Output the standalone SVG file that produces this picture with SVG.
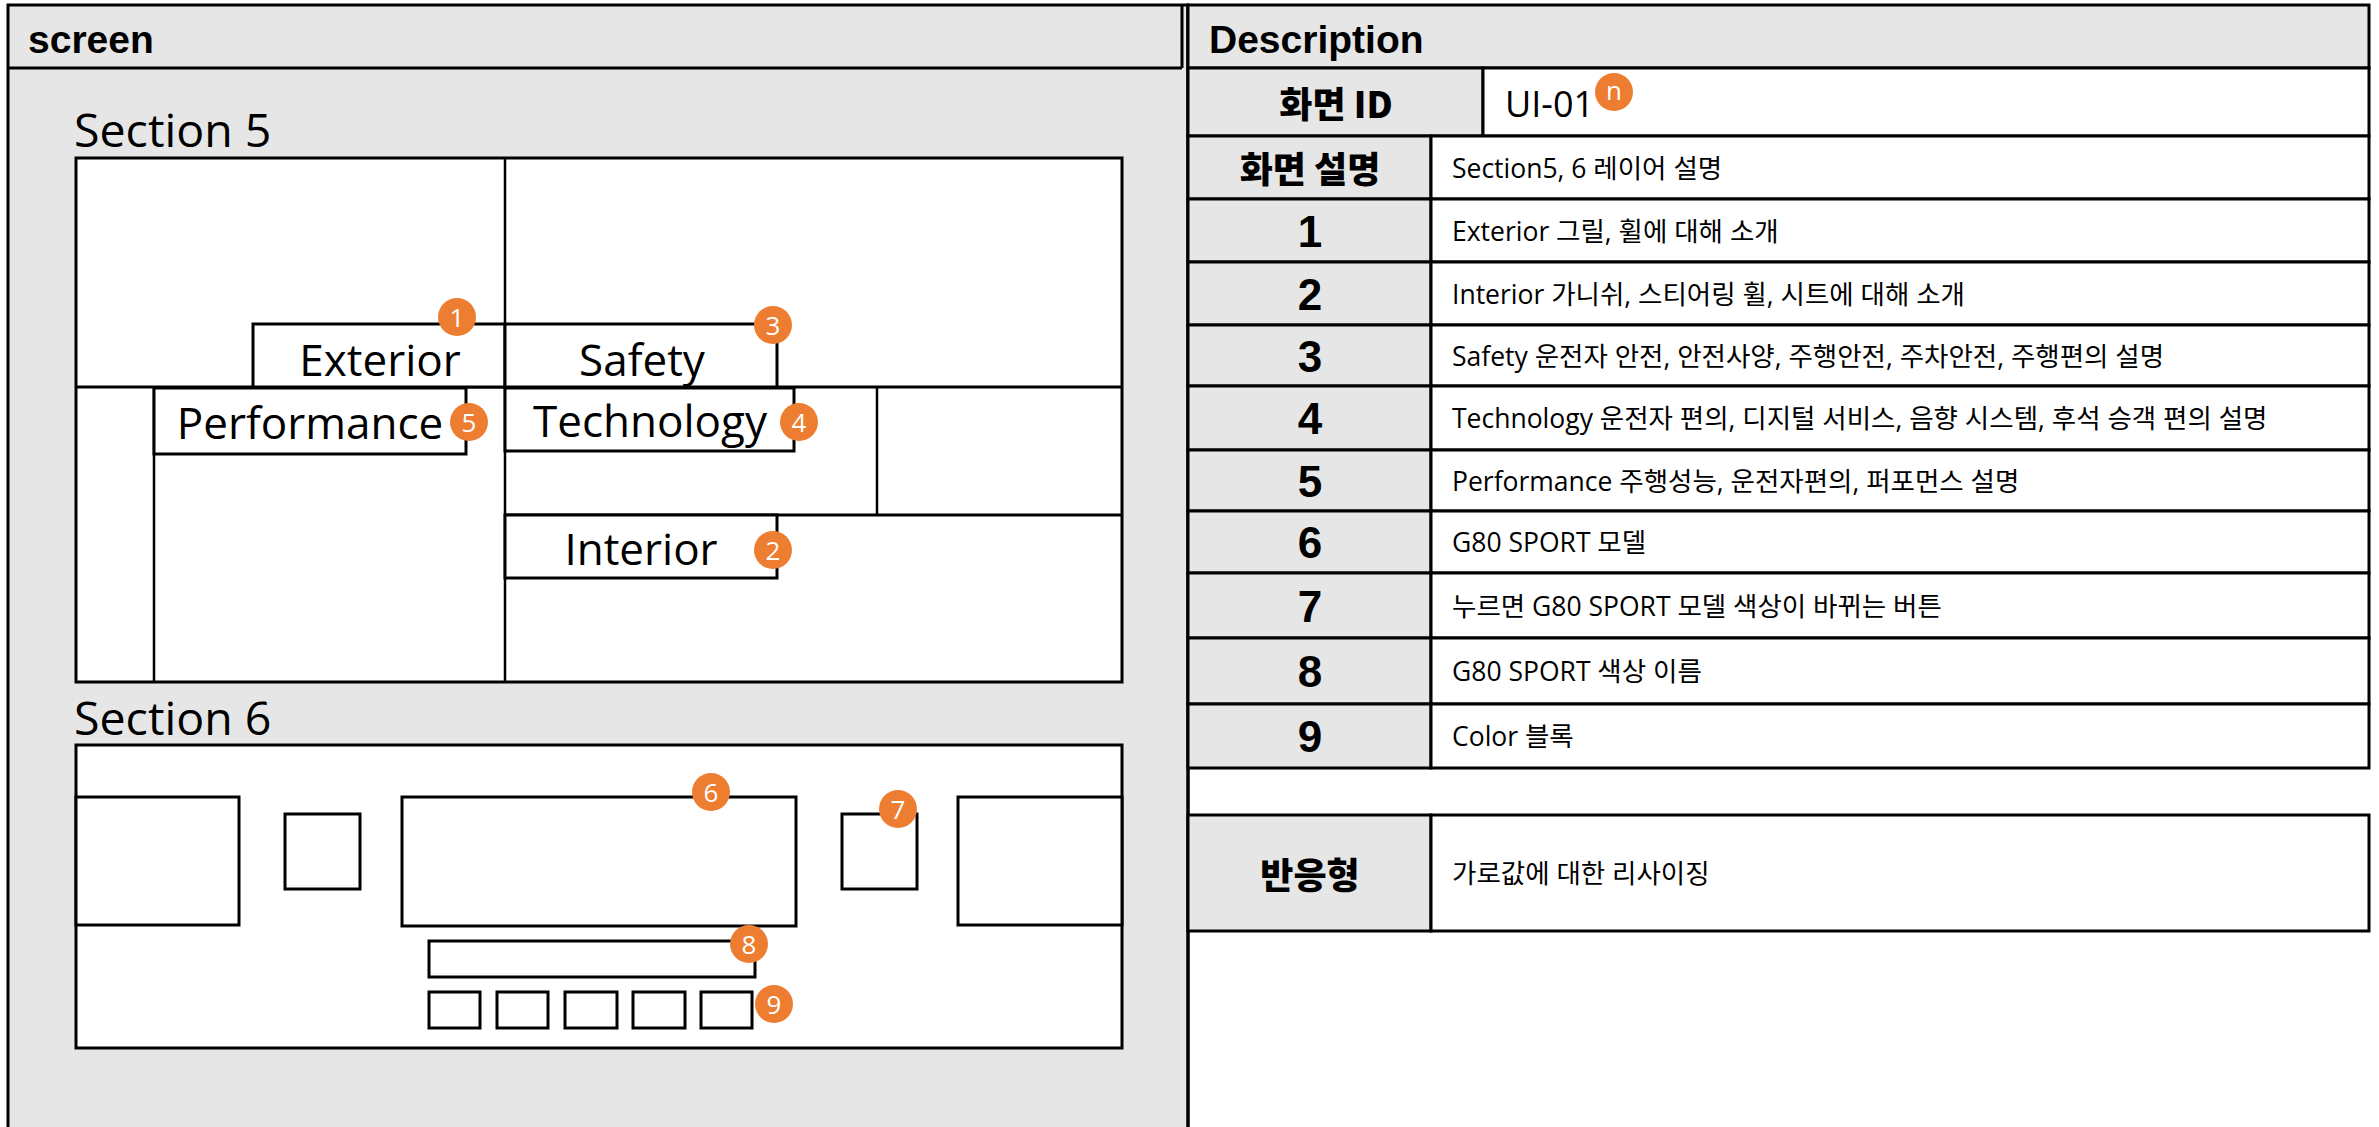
<svg xmlns="http://www.w3.org/2000/svg" width="2379" height="1127" viewBox="0 0 2379 1127">
<style>
.bg{fill:#ffffff}
.gray{fill:#e6e6e6;stroke:#000;stroke-width:3}
.cell{fill:#ffffff;stroke:#000;stroke-width:3}
.box{fill:#ffffff;stroke:#000;stroke-width:3}
.ln{stroke:#000;stroke-width:2.5;fill:none}
.ln3{stroke:#000;stroke-width:3;fill:none}
.bdg circle{fill:#ED7D31}
.bdg text{fill:#fff;font-family:"Open Sans","Noto Sans",sans-serif;font-size:26px;text-anchor:middle;dominant-baseline:central}
.hd{font-family:"Liberation Sans",Arial,sans-serif;font-weight:bold;font-size:39px;fill:#000}
.sec{font-family:"Open Sans","Noto Sans CJK KR",sans-serif;font-size:46.5px;fill:#000}
.lbl{font-family:"Open Sans","Noto Sans CJK KR",sans-serif;font-size:44px;text-anchor:middle;fill:#000}
.kb{font-family:"Noto Sans CJK KR",sans-serif;font-weight:900;font-size:36px;text-anchor:middle;dominant-baseline:central;fill:#000}
.num{font-family:"Liberation Sans",Arial,sans-serif;font-weight:bold;font-size:44px;text-anchor:middle;dominant-baseline:central;fill:#000}
.desc{font-family:"Open Sans","Noto Sans CJK KR",sans-serif;font-size:26.5px;dominant-baseline:central;fill:#000}
.uid{font-family:"Open Sans","Noto Sans CJK KR",sans-serif;font-size:36px;fill:#000}
</style>
<rect class="bg" x="0" y="0" width="2379" height="1127"/>

<!-- Left panel: screen -->
<g id="screen-panel">
  <rect class="gray" x="8" y="5" width="1180" height="1140"/>
  <line class="ln3" x1="8" y1="68" x2="1182" y2="68"/>
  <line class="ln3" x1="1182" y1="5" x2="1182" y2="68"/>
  <text class="hd" x="28" y="53">screen</text>
</g>

<!-- Section 5 -->
<g id="section5">
  <text class="sec" x="74" y="147">Section 5</text>
  <rect class="box" x="76" y="158" width="1046" height="524"/>
  <line class="ln" x1="505" y1="158" x2="505" y2="682"/>
  <line class="ln3" x1="76" y1="387" x2="1122" y2="387"/>
  <line class="ln" x1="154" y1="387" x2="154" y2="682"/>
  <line class="ln" x1="877" y1="387" x2="877" y2="515"/>
  <line class="ln3" x1="505" y1="515" x2="1122" y2="515"/>
</g>
<g id="node-exterior">
  <rect class="box" x="253" y="324" width="252" height="63"/>
  <text class="lbl" x="380" y="376">Exterior</text>
</g>
<g id="node-safety">
  <rect class="box" x="505" y="324" width="272" height="63"/>
  <text class="lbl" x="642" y="376">Safety</text>
</g>
<g id="node-performance">
  <rect class="box" x="154" y="388" width="312" height="66"/>
  <text class="lbl" x="310" y="439">Performance</text>
</g>
<g id="node-technology">
  <rect class="box" x="505" y="388" width="289" height="63"/>
  <text class="lbl" x="650" y="437">Technology</text>
</g>
<g id="node-interior">
  <rect class="box" x="505" y="515" width="272" height="63"/>
  <text class="lbl" x="641" y="565">Interior</text>
</g>

<!-- Section 6 -->
<g id="section6">
  <text class="sec" x="74" y="735">Section 6</text>
  <rect class="box" x="76" y="745" width="1046" height="303"/>
</g>
<g id="node-s6-left"><rect class="box" x="76" y="797" width="163" height="128"/></g>
<g id="node-s6-small-left"><rect class="box" x="285" y="814" width="75" height="75"/></g>
<g id="node-s6-model"><rect class="box" x="402" y="797" width="394" height="129"/></g>
<g id="node-s6-button"><rect class="box" x="842" y="814" width="75" height="75"/></g>
<g id="node-s6-right"><rect class="box" x="958" y="797" width="164" height="128"/></g>
<g id="node-s6-name"><rect class="box" x="429" y="941" width="326" height="36"/></g>
<g id="node-s6-colors">
  <rect class="box" x="429" y="992" width="51" height="36"/>
  <rect class="box" x="497" y="992" width="51" height="36"/>
  <rect class="box" x="565" y="992" width="52" height="36"/>
  <rect class="box" x="633" y="992" width="52" height="36"/>
  <rect class="box" x="701" y="992" width="51" height="36"/>
</g>

<!-- Right panel: Description -->
<g id="description-panel">
  <line class="ln3" x1="1188" y1="5" x2="1188" y2="1127"/>
  <rect class="gray" x="1188" y="5" width="1181" height="63"/>
  <text class="hd" x="1209" y="53">Description</text>
</g>
<g id="row-id">
  <rect class="gray" x="1188" y="68" width="295" height="68"/>
  <rect class="cell" x="1483" y="68" width="886" height="68"/>
  <text class="kb" x="1336" y="102">화면 ID</text>
  <text class="uid" x="1505" y="117">UI-01</text>
</g>
<g id="row-desc">
  <rect class="gray" x="1188" y="136" width="243" height="63"/>
  <rect class="cell" x="1431" y="136" width="938" height="63"/>
  <text class="kb" x="1310" y="167">화면 설명</text>
  <text class="desc" x="1452" y="168">Section5, 6 레이어 설명</text>
</g>
<g id="row-1">
  <rect class="gray" x="1188" y="199" width="243" height="63"/>
  <rect class="cell" x="1431" y="199" width="938" height="63"/>
  <text class="num" x="1310" y="231">1</text>
  <text class="desc" x="1452" y="231">Exterior 그릴, 휠에 대해 소개</text>
</g>
<g id="row-2">
  <rect class="gray" x="1188" y="262" width="243" height="63"/>
  <rect class="cell" x="1431" y="262" width="938" height="63"/>
  <text class="num" x="1310" y="294">2</text>
  <text class="desc" x="1452" y="294">Interior 가니쉬, 스티어링 휠, 시트에 대해 소개</text>
</g>
<g id="row-3">
  <rect class="gray" x="1188" y="325" width="243" height="61"/>
  <rect class="cell" x="1431" y="325" width="938" height="61"/>
  <text class="num" x="1310" y="356">3</text>
  <text class="desc" x="1452" y="356">Safety 운전자 안전, 안전사양, 주행안전, 주차안전, 주행편의 설명</text>
</g>
<g id="row-4">
  <rect class="gray" x="1188" y="386" width="243" height="64"/>
  <rect class="cell" x="1431" y="386" width="938" height="64"/>
  <text class="num" x="1310" y="418">4</text>
  <text class="desc" x="1452" y="418">Technology 운전자 편의, 디지털 서비스, 음향 시스템, 후석 승객 편의 설명</text>
</g>
<g id="row-5">
  <rect class="gray" x="1188" y="450" width="243" height="61"/>
  <rect class="cell" x="1431" y="450" width="938" height="61"/>
  <text class="num" x="1310" y="481">5</text>
  <text class="desc" x="1452" y="481">Performance 주행성능, 운전자편의, 퍼포먼스 설명</text>
</g>
<g id="row-6">
  <rect class="gray" x="1188" y="511" width="243" height="62"/>
  <rect class="cell" x="1431" y="511" width="938" height="62"/>
  <text class="num" x="1310" y="542">6</text>
  <text class="desc" x="1452" y="542">G80 SPORT 모델</text>
</g>
<g id="row-7">
  <rect class="gray" x="1188" y="573" width="243" height="65"/>
  <rect class="cell" x="1431" y="573" width="938" height="65"/>
  <text class="num" x="1310" y="606">7</text>
  <text class="desc" x="1452" y="606">누르면 G80 SPORT 모델 색상이 바뀌는 버튼</text>
</g>
<g id="row-8">
  <rect class="gray" x="1188" y="638" width="243" height="66"/>
  <rect class="cell" x="1431" y="638" width="938" height="66"/>
  <text class="num" x="1310" y="671">8</text>
  <text class="desc" x="1452" y="671">G80 SPORT 색상 이름</text>
</g>
<g id="row-9">
  <rect class="gray" x="1188" y="704" width="243" height="64"/>
  <rect class="cell" x="1431" y="704" width="938" height="64"/>
  <text class="num" x="1310" y="736">9</text>
  <text class="desc" x="1452" y="736">Color 블록</text>
</g>
<g id="row-responsive">
  <rect class="gray" x="1188" y="815" width="243" height="116"/>
  <rect class="cell" x="1431" y="815" width="938" height="116"/>
  <text class="kb" x="1310" y="873">반응형</text>
  <text class="desc" x="1452" y="873">가로값에 대한 리사이징</text>
</g>

<!-- Badges (drawn last, on top) -->
<g id="badges" class="bdg">
  <circle cx="457" cy="317" r="19"/><text x="457" y="317">1</text>
  <circle cx="773" cy="550" r="19"/><text x="773" y="550">2</text>
  <circle cx="773" cy="325" r="19"/><text x="773" y="325">3</text>
  <circle cx="799" cy="422" r="19"/><text x="799" y="422">4</text>
  <circle cx="469" cy="422" r="19"/><text x="469" y="422">5</text>
  <circle cx="711" cy="792" r="19"/><text x="711" y="792">6</text>
  <circle cx="898" cy="809" r="19"/><text x="898" y="809">7</text>
  <circle cx="749" cy="944" r="19"/><text x="749" y="944">8</text>
  <circle cx="774" cy="1004" r="19"/><text x="774" y="1004">9</text>
  <circle cx="1614" cy="92" r="19"/><text x="1614" y="90">n</text>
</g>
</svg>
